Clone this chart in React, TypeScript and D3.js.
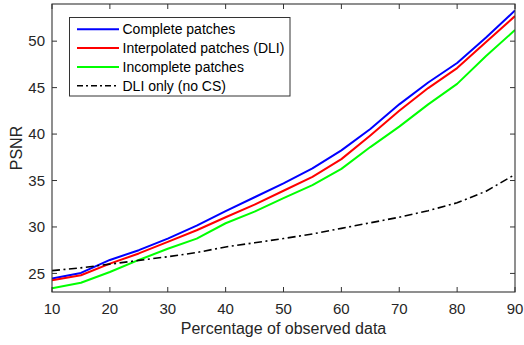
import * as d3 from 'd3'

const pct = [10, 15, 20, 25, 30, 35, 40, 45, 50, 55, 60, 65, 70, 75, 80, 85, 90]
const complete = [24.45, 25.05, 26.45, 27.5, 28.75, 30.15, 31.7, 33.2, 34.7, 36.3, 38.25, 40.55, 43.2, 45.55, 47.65, 50.4, 53.3]
const interpolated = [24.25, 24.8, 26.05, 27.15, 28.4, 29.65, 31.05, 32.4, 33.9, 35.4, 37.3, 39.85, 42.5, 44.95, 47.1, 49.9, 52.7]
const incomplete = [23.4, 24.0, 25.15, 26.45, 27.65, 28.75, 30.4, 31.65, 33.1, 34.5, 36.25, 38.6, 40.8, 43.2, 45.4, 48.4, 51.2]
const dliOnly = [25.3, 25.6, 26.0, 26.4, 26.8, 27.25, 27.85, 28.3, 28.75, 29.25, 29.85, 30.45, 31.05, 31.75, 32.6, 33.85, 35.65]

const xTicks = [10, 20, 30, 40, 50, 60, 70, 80, 90]
const yTicks = [25, 30, 35, 40, 45, 50]

const series = [
  { name: 'Complete patches', values: complete, color: '#0000ff', dash: null },
  { name: 'Interpolated patches (DLI)', values: interpolated, color: '#ff0000', dash: null },
  { name: 'Incomplete patches', values: incomplete, color: '#00ff00', dash: null },
  { name: 'DLI only (no CS)', values: dliOnly, color: '#000000', dash: '8,3.5,2,3.5' },
]

const W = 524
const H = 345
const m = { left: 52, right: 9, top: 4, bottom: 53 }
const axisColor = '#333'
const font = '"Liberation Sans", Arial, Helvetica, sans-serif'

export default function App() {
  const x = d3.scaleLinear().domain([10, 90]).range([m.left, W - m.right])
  const y = d3.scaleLinear().domain([23, 54]).range([H - m.bottom, m.top])
  const x0 = x.range()[0], x1 = x.range()[1]
  const y0 = y.range()[0], y1 = y.range()[1]

  const line = (vals: number[]) =>
    d3.line<number>().x((_, i) => x(pct[i])).y(v => y(v))(vals) ?? ''

  const tickLen = 5

  // legend
  const lg = { x: 69.5, y: 17.5, w: 220.5, h: 78.5, rowH: 18.8 }

  return (
    <svg width={W} height={H} style={{ position: 'absolute', left: 0, top: 0, background: '#fff' }} fontFamily={font}>
      <rect x={0} y={0} width={W} height={H} fill="#fff" />

      {/* data lines */}
      <g clipPath="url(#clip)">
        {series.map(s => (
          <path key={s.name} d={line(s.values)} fill="none" stroke={s.color}
            strokeWidth={s.dash ? 1.6 : 2} strokeDasharray={s.dash ?? undefined} strokeLinejoin="round" />
        ))}
      </g>
      <defs>
        <clipPath id="clip"><rect x={x0} y={y1} width={x1 - x0} height={y0 - y1} /></clipPath>
      </defs>

      {/* box + ticks */}
      <rect x={x0} y={y1} width={x1 - x0} height={y0 - y1} fill="none" stroke={axisColor} strokeWidth={1.1} />
      {xTicks.map(t => (
        <g key={'x' + t}>
          <line x1={x(t)} x2={x(t)} y1={y0} y2={y0 - tickLen} stroke={axisColor} strokeWidth={1} />
          <line x1={x(t)} x2={x(t)} y1={y1} y2={y1 + tickLen} stroke={axisColor} strokeWidth={1} />
          <text x={x(t)} y={314} textAnchor="middle" fontSize={15} fill="#262626">{t}</text>
        </g>
      ))}
      {yTicks.map(t => (
        <g key={'y' + t}>
          <line x1={x0} x2={x0 + tickLen} y1={y(t)} y2={y(t)} stroke={axisColor} strokeWidth={1} />
          <line x1={x1} x2={x1 - tickLen} y1={y(t)} y2={y(t)} stroke={axisColor} strokeWidth={1} />
          <text x={x0 - 7} y={y(t) + 5.3} textAnchor="end" fontSize={15} fill="#262626">{t}</text>
        </g>
      ))}

      {/* axis labels */}
      <text x={(x0 + x1) / 2} y={334} textAnchor="middle" fontSize={16} fill="#262626">
        Percentage of observed data
      </text>
      <text transform={`translate(22,${(y0 + y1) / 2}) rotate(-90)`} textAnchor="middle" fontSize={16} fill="#262626">
        PSNR
      </text>

      {/* legend */}
      <rect x={lg.x} y={lg.y} width={lg.w} height={lg.h} fill="#fff" stroke="#333" strokeWidth={1} />
      {series.map((s, i) => {
        const cy = 29.3 + i * lg.rowH
        return (
          <g key={'lg' + s.name}>
            <line x1={77} x2={119} y1={cy} y2={cy} stroke={s.color}
              strokeWidth={s.dash ? 1.6 : 2} strokeDasharray={s.dash ? '6,3,2,3' : undefined} />
            <text x={122.5} y={cy + 5} fontSize={14} fill="#000">{s.name}</text>
          </g>
        )
      })}
    </svg>
  )
}
